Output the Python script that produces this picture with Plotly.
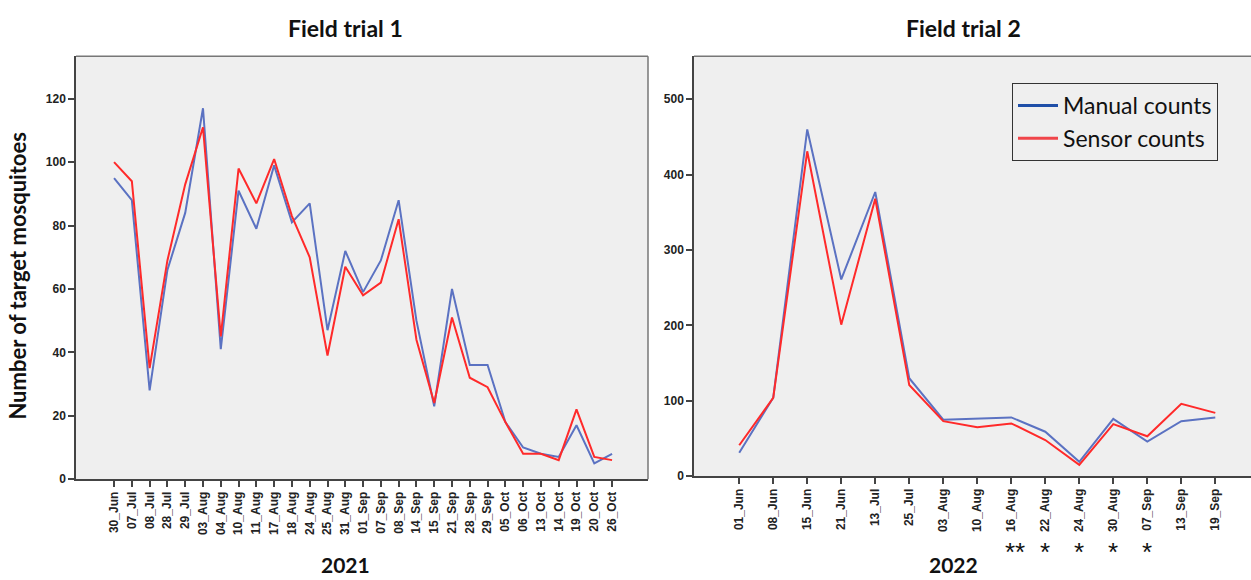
import plotly.graph_objects as go

# ---- data ----
dates_2021 = ["30_Jun", "07_Jul", "08_Jul", "28_Jul", "29_Jul", "03_Aug", "04_Aug", "10_Aug",
              "11_Aug", "17_Aug", "18_Aug", "24_Aug", "25_Aug", "31_Aug", "01_Sep", "07_Sep",
              "08_Sep", "14_Sep", "15_Sep", "21_Sep", "28_Sep", "29_Sep", "05_Oct", "06_Oct",
              "13_Oct", "14_Oct", "19_Oct", "20_Oct", "26_Oct"]
manual_2021 = [95, 88, 28, 66, 84, 117, 41, 91, 79, 99, 81, 87, 47, 72, 59, 69,
               88, 50, 23, 60, 36, 36, 18, 10, 8, 7, 17, 5, 8]
sensor_2021 = [100, 94, 35, 69, 93, 111, 45, 98, 87, 101, 83, 70, 39, 67, 58, 62,
               82, 44, 24, 51, 32, 29, 18, 8, 8, 6, 22, 7, 6]

dates_2022 = ["01_Jun", "08_Jun", "15_Jun", "21_Jun", "13_Jul", "25_Jul", "03_Aug", "10_Aug",
              "16_Aug", "22_Aug", "24_Aug", "30_Aug", "07_Sep", "13_Sep", "19_Sep"]
manual_2022 = [31, 104, 460, 261, 377, 130, 75, 77, 78, 59, 19, 76, 46, 73, 78]
sensor_2022 = [41, 104, 431, 201, 368, 121, 73, 65, 70, 48, 15, 69, 53, 96, 84]

star_dates = ["16_Aug", "22_Aug", "24_Aug", "30_Aug", "07_Sep"]
star_marks = ["**", "*", "*", "*", "*"]

yticks_2021 = [0, 20, 40, 60, 80, 100, 120]
yticks_2022 = [0, 100, 200, 300, 400, 500]

# ---- styles ----
W, H = 1251, 580
BLUE = "#5b72c2"
RED = "#ff2a2a"
LEG_BLUE = "#1f4fa8"
LEG_RED = "#f0454a"
BG = "#efefef"
TICKFONT = dict(family="Liberation Sans Narrow, Arial Narrow, Liberation Sans, Arial", size=12,
                color="#222", weight="bold")
TITLEFONT = dict(family="Lato, Open Sans, sans-serif", size=23, color="#111")
YEARFONT = dict(family="Lato, Open Sans, sans-serif", size=21, color="#111")
YLABFONT = dict(family="Lato, Open Sans, sans-serif", size=22, color="#111")

def px_x(p):
    return p / W

def px_y(p):
    return 1 - p / H

fig = go.Figure()

x1 = list(range(len(dates_2021)))
x2 = list(range(len(dates_2022)))

fig.add_trace(go.Scatter(x=x1, y=manual_2021, mode="lines", line=dict(color=BLUE, width=2),
                         xaxis="x", yaxis="y", showlegend=False))
fig.add_trace(go.Scatter(x=x1, y=sensor_2021, mode="lines", line=dict(color=RED, width=2),
                         xaxis="x", yaxis="y", showlegend=False))
fig.add_trace(go.Scatter(x=x2, y=manual_2022, mode="lines", line=dict(color=BLUE, width=2),
                         xaxis="x2", yaxis="y2", showlegend=False))
fig.add_trace(go.Scatter(x=x2, y=sensor_2022, mode="lines", line=dict(color=RED, width=2),
                         xaxis="x2", yaxis="y2", showlegend=False))
# legend entries
fig.add_trace(go.Scatter(x=[None], y=[None], mode="lines", line=dict(color=LEG_BLUE, width=3),
                         name="Manual counts", xaxis="x2", yaxis="y2"))
fig.add_trace(go.Scatter(x=[None], y=[None], mode="lines", line=dict(color=LEG_RED, width=3),
                         name="Sensor counts", xaxis="x2", yaxis="y2"))

axis_common = dict(showgrid=False, zeroline=False, showline=True, linecolor="#444", linewidth=1.5,
                   ticks="outside", ticklen=6, tickcolor="#444", tickwidth=1.5, tickfont=TICKFONT)

fig.update_layout(
    width=W, height=H,
    margin=dict(l=0, r=0, t=0, b=0),
    paper_bgcolor="white",
    plot_bgcolor=BG,
    xaxis=dict(domain=[px_x(76), px_x(648)], anchor="y", range=[-2.14, 30.02],
               tickmode="array", tickvals=x1, ticktext=dates_2021, tickangle=-90,
               **axis_common),
    yaxis=dict(domain=[px_y(485), px_y(57)], anchor="x", range=[0, 133.4],
               tickmode="array", tickvals=yticks_2021, **axis_common),
    xaxis2=dict(domain=[px_x(694), 1.0], anchor="y2", range=[-1.33, 15.05],
                tickmode="array", tickvals=x2, ticktext=dates_2022, tickangle=-90,
                **axis_common),
    yaxis2=dict(domain=[px_y(482), px_y(57)], anchor="x2", range=[0, 557],
                tickmode="array", tickvals=yticks_2022, **axis_common),
    legend=dict(x=px_x(1012), y=px_y(84), xanchor="left", yanchor="top",
                bordercolor="#333", borderwidth=1, bgcolor=BG,
                font=dict(family="Lato, Open Sans, sans-serif", size=23, color="#111"),
                itemwidth=40, tracegroupgap=0),
    showlegend=True,
)

# frame lines (top/right of left panel, top of right panel)
fig.add_shape(type="line", xref="x domain", yref="y domain", x0=0, x1=1, y0=1, y1=1,
              line=dict(color="#777", width=1.5))
fig.add_shape(type="line", xref="x domain", yref="y domain", x0=1, x1=1, y0=0, y1=1,
              line=dict(color="#777", width=1.5))
fig.add_shape(type="line", xref="x2 domain", yref="y2 domain", x0=0, x1=1, y0=1, y1=1,
              line=dict(color="#777", width=1.5))

# titles
fig.add_annotation(text="<b>Field trial 1</b>", xref="paper", yref="paper",
                   x=px_x(345), y=px_y(28), showarrow=False, font=TITLEFONT,
                   xanchor="center", yanchor="middle")
fig.add_annotation(text="<b>Field trial 2</b>", xref="paper", yref="paper",
                   x=px_x(963), y=px_y(28), showarrow=False, font=TITLEFONT,
                   xanchor="center", yanchor="middle")
fig.add_annotation(text="<b>2021</b>", xref="paper", yref="paper",
                   x=px_x(345), y=px_y(571), showarrow=False, font=YEARFONT,
                   xanchor="center", yanchor="middle")
fig.add_annotation(text="<b>2022</b>", xref="paper", yref="paper",
                   x=px_x(953), y=px_y(571), showarrow=False, font=YEARFONT,
                   xanchor="center", yanchor="middle")
fig.add_annotation(text="<b>Number of target mosquitoes</b>", xref="paper", yref="paper",
                   x=px_x(18), y=px_y(280), showarrow=False, font=YLABFONT, textangle=-90,
                   xanchor="center", yanchor="middle")

# asterisks
for d, s in zip(star_dates, star_marks):
    fig.add_annotation(text=s, xref="x2", yref="paper", x=dates_2022.index(d) + (0.1 if s == "**" else 0),
                       y=px_y(559), showarrow=False,
                       font=dict(family="Liberation Sans, Arial", size=26, color="#111"),
                       xanchor="center", yanchor="middle")

fig.write_html("out.html")
